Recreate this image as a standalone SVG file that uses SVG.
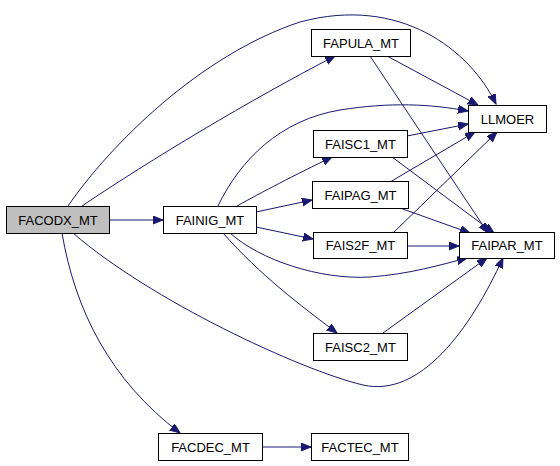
<svg xmlns="http://www.w3.org/2000/svg" width="560" height="466" viewBox="0 0 560 466">
<style>
.n rect{fill:#fff;stroke:#000;stroke-width:1}
.n text{font-family:"Liberation Sans",Arial,sans-serif;font-size:13px;text-anchor:middle;fill:#000}
.e path{fill:none;stroke:#191970;stroke-width:1;marker-end:url(#a)}
</style>
<defs>
<marker id="a" markerUnits="userSpaceOnUse" markerWidth="12" markerHeight="10" refX="10" refY="4" orient="auto">
<path d="M0,0 L10,4 L0,8 Z" fill="#191970" stroke="#191970"/>
</marker>
</defs>
<rect width="560" height="466" fill="#fff"/>
<g id="edges" class="e">
<path d="M109,220 L163,220"/>
<path d="M82,206 C150,160 250,100 335,56"/>
<path d="M68,206 C110,145 200,55 300,22 C400,-5 470,50 496,104"/>
<path d="M73,233 C150,300 300,370 363,385 C420,398 470,330 503,258"/>
<path d="M62,233 C75,310 110,380 180,433"/>
<path d="M237,206 C260,193 295,175 332,157"/>
<path d="M256,212 L312,200"/>
<path d="M256,227 L313,239"/>
<path d="M223,233 C260,275 300,305 337,333"/>
<path d="M218,206 C240,160 280,120 340,110 C390,102 430,104 468,111"/>
<path d="M230,233 C260,260 320,280 370,277 C410,274 440,265 467,258"/>
<path d="M387,56 L478,105"/>
<path d="M370,56 L488,233"/>
<path d="M407,136 L468,124"/>
<path d="M392,157 L494,233"/>
<path d="M390,182 L475,132"/>
<path d="M400,208 L470,233"/>
<path d="M393,233 L497,132"/>
<path d="M407,246 L459,246"/>
<path d="M383,333 L487,258"/>
<path d="M262,447 L311,447"/>
</g>
<g id="FACODX_MT" class="n"><rect x="6.5" y="206.5" width="103" height="27" style="fill:#bfbfbf"/><text x="58" y="224.5">FACODX_MT</text></g>
<g id="FAINIG_MT" class="n"><rect x="163.5" y="206.5" width="93" height="27"/><text x="210" y="224.5">FAINIG_MT</text></g>
<g id="FAPULA_MT" class="n"><rect x="311.5" y="29.5" width="99" height="27"/><text x="361" y="47.5">FAPULA_MT</text></g>
<g id="LLMOER" class="n"><rect x="468.5" y="105.5" width="78" height="27"/><text x="507.5" y="123.5">LLMOER</text></g>
<g id="FAISC1_MT" class="n"><rect x="313.5" y="130.5" width="94" height="27"/><text x="360.5" y="148.5">FAISC1_MT</text></g>
<g id="FAIPAG_MT" class="n"><rect x="312.5" y="181.5" width="96" height="27"/><text x="360.5" y="199.5">FAIPAG_MT</text></g>
<g id="FAIS2F_MT" class="n"><rect x="313.5" y="232.5" width="94" height="26"/><text x="360.5" y="250">FAIS2F_MT</text></g>
<g id="FAIPAR_MT" class="n"><rect x="459.5" y="232.5" width="95" height="26"/><text x="507" y="250">FAIPAR_MT</text></g>
<g id="FAISC2_MT" class="n"><rect x="313.5" y="333.5" width="94" height="27"/><text x="360.5" y="351.5">FAISC2_MT</text></g>
<g id="FACDEC_MT" class="n"><rect x="158.5" y="433.5" width="104" height="27"/><text x="210.5" y="451.5">FACDEC_MT</text></g>
<g id="FACTEC_MT" class="n"><rect x="311.5" y="433.5" width="97" height="27"/><text x="360" y="451.5">FACTEC_MT</text></g>
</svg>
